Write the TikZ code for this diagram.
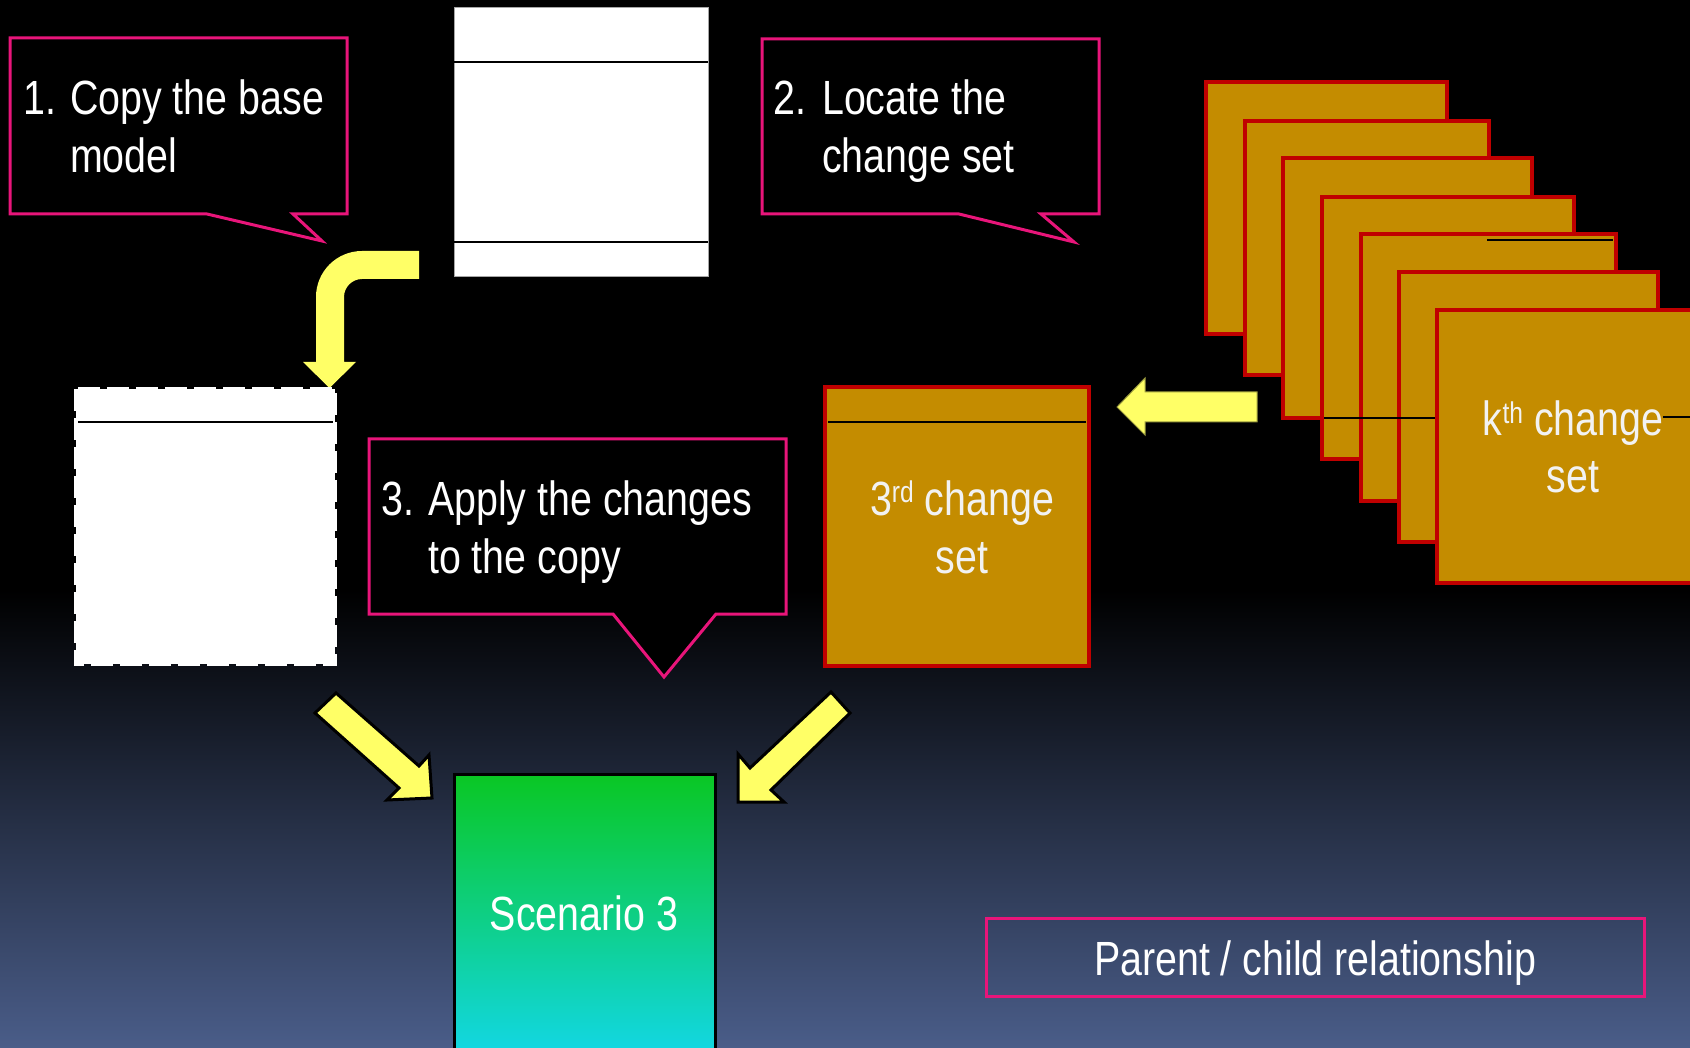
\documentclass[tikz,border=0pt]{standalone}
\usepackage{fontspec}
\setmainfont{Liberation Sans}[FakeStretch=0.82]
\definecolor{yel}{HTML}{FFFF66}
\definecolor{pinkb}{HTML}{E8157A}
\definecolor{gold}{HTML}{C48C00}
\definecolor{redb}{HTML}{C00000}
\definecolor{bgbot}{HTML}{4A5D89}
\definecolor{sgreen}{HTML}{0AC723}
\definecolor{scyan}{HTML}{12D7E0}
\definecolor{boxtext}{HTML}{F2F2F2}
\newcommand{\mysups}[1]{\raisebox{13pt}{\fontsize{30}{30}\selectfont #1}}
\tikzset{
  txt/.style={font=\fontsize{48}{58}\selectfont, text=white, inner sep=0pt, anchor=base west},
  ctxt/.style={font=\fontsize{48}{58}\selectfont, text=boxtext, inner sep=0pt, anchor=base},
  callout/.style={draw=pinkb, line width=3pt, fill=black, line join=miter},
  yarrow/.style={fill=yel, draw=black, line width=3pt, line join=miter},
  csbox/.style={fill=gold, draw=redb, line width=4.5pt},
  hdr/.style={draw=black, line width=1.2pt},
}
\begin{document}
\begin{tikzpicture}[x=1pt,y=-1pt]
\useasboundingbox (0,0) rectangle (1690,1048);
\clip (0,0) rectangle (1690,1048);
% background
\fill[black] (0,0) rectangle (1690,1048);
\shade[top color=black, bottom color=bgbot] (0,590) rectangle (1690,1048);

% callout 1
\draw[callout] (10,38) -- (347,38) -- (347,214) -- (293,214) -- (322,241) -- (207,214) -- (10,214) -- cycle;
\node[txt] (n1) at (23,115) {1.};
\node[txt] (c1a) at (70,115) {Copy the base};
\node[txt] (c1b) at (70,173) {model};

% callout 2
\draw[callout] (762,39) -- (1099,39) -- (1099,214) -- (1041,214) -- (1074,242) -- (959,214) -- (762,214) -- cycle;
\node[txt] (n2) at (773,115) {2.};
\node[txt] (c2a) at (822,115) {Locate the};
\node[txt] (c2b) at (822,173) {change set};

% callout 3
\draw[callout] (369,439) -- (786,439) -- (786,614) -- (716,614) -- (664,677) -- (613,614) -- (369,614) -- cycle;
\node[txt] (n3) at (381,515) {3.};
\node[txt] (c3a) at (428,515) {Apply the changes};
\node[txt] (c3b) at (428,573) {to the copy};

% base model (top white box)
\draw[fill=white, draw=gray!70, line width=1pt] (454,8) rectangle (708,277);
\draw[hdr] (454,62) -- (708,62);
\draw[hdr] (454,242) -- (708,242);

% bend arrow
\fill[yel] (419,251) -- (362,251) .. controls (336.6,251) and (316,271.6) .. (316,297)
  -- (316,362) -- (303,362) -- (329.5,388) -- (356,362) -- (344,362) -- (344,297)
  .. controls (344,287.1) and (352.1,279) .. (362,279) -- (419,279) -- cycle;

% copy box (dashed)
\fill[white] (76,389) rectangle (335,664);
\draw[white, line width=4pt, dash pattern=on 22pt off 7pt] (76,389) rectangle (335,664);
\draw[black, line width=1.2pt] (78,422) -- (333,422);

% stack of change sets
\draw[csbox] (1206,82) rectangle (1447,334);
\draw[csbox] (1245,121) rectangle (1489,375);
\draw[csbox] (1283,158) rectangle (1532,418);
\draw[csbox] (1322,197) rectangle (1574,459);
\draw[csbox] (1361,234) rectangle (1616,501);
\draw[hdr] (1487,240) -- (1613,240);
\draw[csbox] (1399,272) rectangle (1658,542);
\draw[hdr] (1324,418) -- (1437,418);
\draw[csbox] (1437,310) rectangle (1712,583);
\draw[hdr] (1663,417) -- (1690,417);
\node[ctxt] (k1) at (1573,436) {k\mysups{th} change};
\node[ctxt] (k2) at (1573,493) {set};

% arrow stack -> 3rd change set
\draw[fill=yel, draw=yel!60!black, line width=1pt] (1257,392) -- (1145,392) -- (1145,378) -- (1117,407) -- (1145,435) -- (1145,422) -- (1257,422) -- cycle;

% 3rd change set
\draw[csbox] (825,387) rectangle (1089,666);
\draw[hdr] (828,422) -- (1086,422);
\node[ctxt] (t1) at (962,515) {3\mysups{rd} change};
\node[ctxt] (t2) at (962,573) {set};

% diagonal arrows
\draw[yarrow] (315,713) -- (336,693) -- (419,766) -- (429,755) -- (432,798) -- (387,800) -- (399,788) -- cycle;
\draw[yarrow] (850,713) -- (831,692) -- (750,768) -- (738,754) -- (738,802) -- (784,802) -- (771,790) -- cycle;

% scenario 3
\shade[top color=sgreen, bottom color=scyan] (454,774) rectangle (715,1048);
\draw[black, line width=3pt] (454,1060) -- (454,774) -- (715,774) -- (715,1060);
\node[ctxt, text=white] (sc) at (584,930) {Scenario 3};

% legend
\draw[pinkb, line width=3pt] (986,918) rectangle (1644,996);
\node[ctxt, text=white] (lg) at (1315,975) {Parent / child relationship};
\end{tikzpicture}
\end{document}
